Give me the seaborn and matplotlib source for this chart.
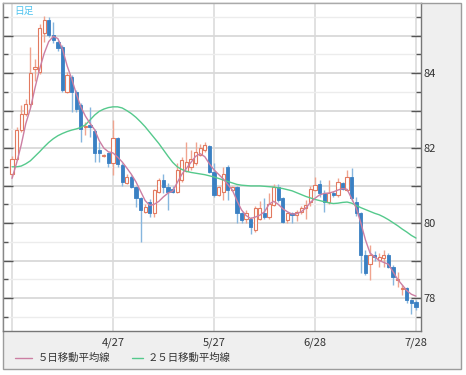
import matplotlib
matplotlib.use("Agg")
import matplotlib.pyplot as plt
import seaborn as sns
import pandas as pd
import numpy as np
from matplotlib.lines import Line2D
from matplotlib.patches import Rectangle

# daily candles, index 0 = first trading day shown
open_ = [81.32, 81.72, 82.48, 82.92, 83.17, 84.10, 84.04, 85.06, 85.41, 85.01,
         84.84, 84.70, 83.50, 83.90, 83.50, 83.15, 82.57, 82.62, 82.45, 81.95,
         81.78, 81.86, 81.59, 82.26, 81.55, 81.06, 81.24, 80.97, 80.66, 80.30,
         80.57, 80.26, 80.84, 81.15, 80.97, 80.92, 80.84, 81.15, 81.40, 81.50,
         81.59, 81.81, 81.95, 82.05, 81.37, 80.75, 80.84, 81.50, 80.88, 80.97,
         80.26, 80.12, 80.12, 79.81, 80.12, 80.26, 80.17, 80.48, 80.97, 80.66,
         80.08, 80.26, 80.21, 80.30, 80.39, 80.55, 80.88, 81.03, 80.79, 80.57,
         80.79, 80.75, 81.06, 80.88, 81.24, 80.57, 80.26, 79.15, 78.92, 79.15,
         79.01, 79.06, 79.15, 78.84, 78.48, 78.23, 78.26, 77.95, 77.90]
high = [81.80, 82.55, 83.15, 83.30, 84.70, 84.37, 85.30, 85.52, 85.50, 85.37,
        84.88, 84.75, 84.04, 83.95, 83.55, 83.20, 82.70, 83.10, 82.50, 82.17,
        81.85, 81.90, 82.75, 82.30, 81.60, 81.30, 81.28, 81.00, 80.70, 80.50,
        80.63, 80.92, 81.20, 81.32, 81.06, 81.00, 81.59, 81.75, 82.17, 81.95,
        82.17, 82.12, 82.17, 82.08, 81.59, 81.00, 81.50, 81.55, 81.00, 81.00,
        80.30, 80.35, 80.15, 80.45, 80.60, 80.66, 80.79, 81.05, 81.05, 80.70,
        80.30, 80.30, 80.35, 80.45, 80.62, 81.00, 81.24, 81.15, 80.88, 81.15,
        80.85, 81.19, 81.10, 81.41, 81.46, 80.70, 80.30, 79.28, 79.41, 79.25,
        79.19, 79.28, 79.19, 78.88, 78.70, 78.35, 78.30, 77.97, 77.95]
low = [81.24, 81.68, 82.44, 82.85, 83.10, 83.80, 83.98, 84.84, 84.97, 84.79,
       84.60, 83.50, 83.46, 82.97, 82.95, 82.17, 82.35, 82.30, 81.62, 81.64,
       81.75, 81.50, 81.28, 81.50, 81.00, 81.04, 80.93, 80.44, 79.50, 80.26,
       80.17, 80.17, 80.80, 80.79, 80.35, 80.80, 80.79, 81.10, 81.35, 81.42,
       81.55, 81.78, 81.90, 81.33, 80.70, 80.72, 80.62, 80.62, 80.85, 79.99,
       79.99, 79.99, 79.72, 79.76, 80.08, 80.12, 80.12, 80.45, 80.57, 80.00,
       80.00, 80.00, 80.05, 80.25, 80.10, 80.45, 80.85, 80.70, 80.30, 80.50,
       80.70, 80.70, 80.88, 80.85, 80.60, 80.20, 78.66, 78.62, 78.48, 79.00,
       78.84, 78.84, 78.80, 78.35, 78.30, 78.08, 77.86, 77.57, 77.68]
close = [81.72, 82.48, 82.92, 83.17, 83.99, 84.15, 85.19, 85.41, 85.01, 84.88,
         84.66, 83.55, 83.95, 83.50, 83.03, 82.52, 82.60, 82.55, 81.88, 81.88,
         81.81, 81.59, 82.26, 81.57, 81.10, 81.24, 80.97, 80.66, 80.35, 80.44,
         80.26, 80.88, 81.15, 80.97, 80.84, 80.84, 81.41, 81.68, 81.62, 81.72,
         81.90, 81.99, 82.08, 81.37, 80.75, 80.97, 81.32, 80.88, 80.97, 80.26,
         80.08, 80.26, 79.90, 80.39, 80.39, 80.17, 80.52, 80.97, 80.61, 80.04,
         80.26, 80.21, 80.30, 80.39, 80.48, 80.90, 81.01, 80.79, 80.57, 80.79,
         80.75, 81.10, 80.92, 81.24, 80.66, 80.26, 79.15, 78.66, 79.15, 79.10,
         79.10, 79.15, 78.84, 78.57, 78.50, 78.26, 77.95, 77.88, 77.77]

# moving average lines as drawn on the chart
ma5 = [81.19, 81.60, 82.08, 82.65, 83.05, 83.60, 84.10, 84.52, 84.84, 84.98,
       84.92, 84.64, 84.20, 83.85, 83.45, 83.10, 82.85, 82.66, 82.49, 82.20,
       82.00, 81.90, 81.87, 81.76, 81.63, 81.47, 81.30, 81.10, 80.85, 80.60,
       80.47, 80.50, 80.58, 80.70, 80.80, 80.85, 81.08, 81.30, 81.46, 81.62,
       81.78, 81.85, 81.77, 81.58, 81.42, 81.30, 81.18, 81.03, 80.88, 80.60,
       80.35, 80.20, 80.12, 80.16, 80.21, 80.30, 80.50, 80.58, 80.50, 80.38,
       80.30, 80.24, 80.25, 80.30, 80.40, 80.55, 80.66, 80.75, 80.79, 80.80,
       80.83, 80.88, 80.92, 80.90, 80.65, 80.40, 80.00, 79.55, 79.20, 79.10,
       79.00, 78.95, 78.90, 78.70, 78.50, 78.35, 78.20, 78.10, 78.05]
ma25 = [81.50, 81.50, 81.52, 81.58, 81.66, 81.78, 81.90, 82.03, 82.15, 82.25,
        82.33, 82.39, 82.44, 82.48, 82.51, 82.55, 82.62, 82.75, 82.88, 82.98,
        83.04, 83.08, 83.10, 83.10, 83.07, 83.00, 82.92, 82.82, 82.70, 82.57,
        82.42, 82.27, 82.12, 81.95, 81.78, 81.62, 81.50, 81.43, 81.38, 81.35,
        81.33, 81.31, 81.29, 81.26, 81.23, 81.19, 81.15, 81.11, 81.07, 81.03,
        81.01, 81.00, 80.99, 80.99, 80.99, 80.98, 80.97, 80.96, 80.94, 80.92,
        80.89, 80.86, 80.81, 80.76, 80.71, 80.67, 80.63, 80.60, 80.57, 80.54,
        80.52, 80.53, 80.55, 80.56, 80.53, 80.47, 80.41, 80.36, 80.31, 80.26,
        80.22, 80.16, 80.09, 80.01, 79.93, 79.84, 79.76, 79.67, 79.60]

tick_pos = [0, 22, 44, 66, 88]
tick_labels = ["", "4/27", "5/27", "6/28", "7/28"]

df = pd.DataFrame({"day": range(len(close)), "open": open_, "high": high,
                   "low": low, "close": close, "ma5": ma5, "ma25": ma25})

sns.set_theme(style="white")
plt.rcParams["font.family"] = ["Noto Sans CJK JP", "DejaVu Sans"]

W, H = 466, 375
fig = plt.figure(figsize=(W / 100, H / 100), dpi=100)
fig.patch.set_facecolor("white")
fig.add_artist(Rectangle((3 / W, 6 / H), 458 / W, 366 / H, transform=fig.transFigure,
                         facecolor="#efefef", edgecolor="#9c9c9c", lw=1, zorder=0))

ax = fig.add_axes([3 / W, 44 / H, 418 / W, 328 / H])
ax.set_facecolor("white")

up = df[df["close"] >= df["open"]]
down = df[df["close"] < df["open"]]

ax.vlines(up["day"], up["low"], up["high"], color="#f0a48f", lw=1, zorder=3)
ax.vlines(down["day"], down["low"], down["high"], color="#86b6de", lw=1, zorder=3)
ax.bar(up["day"], (up["close"] - up["open"]).clip(lower=0.03), bottom=up["open"],
       width=0.7, facecolor="white", edgecolor="#e27a60", lw=0.8, zorder=4)
ax.bar(down["day"], down["open"] - down["close"], bottom=down["close"],
       width=0.7, facecolor="#3a80c3", edgecolor="#3a80c3", lw=0.6, zorder=4)

sns.lineplot(data=df, x="day", y="ma25", ax=ax, color="#55c98c", lw=1, zorder=5)
sns.lineplot(data=df, x="day", y="ma5", ax=ax, color="#cc7fa3", lw=1, zorder=6)

ax.set_xlim(-1.96, 89.1)
ax.set_ylim(77.12, 85.87)
ax.set_xlabel("")
ax.set_ylabel("")

major = list(range(78, 86))
ax.set_yticks(major, [str(v) if v % 2 == 0 else "" for v in major])
ax.set_yticks(np.arange(77.5, 86, 1.0), minor=True)
ax.set_xticks(tick_pos, tick_labels)

ax.grid(axis="y", which="major", color="#d9d9d9", lw=1.3, zorder=0)
ax.grid(axis="y", which="minor", color="#ececec", lw=1.0, zorder=0)
ax.grid(axis="x", which="major", color="#dcdcdc", lw=1.2, zorder=0)
ax.set_axisbelow(True)

ax.tick_params(axis="y", which="both", direction="in", left=True, right=True,
               labelleft=False, labelright=True, color="#555555",
               labelsize=8, labelcolor="#333333", pad=2)
ax.tick_params(axis="y", which="major", length=7, width=1)
ax.tick_params(axis="y", which="minor", length=3.5, width=1)
ax.tick_params(axis="x", length=0, pad=5, labelsize=8, labelcolor="#333333")

for side, col in [("top", "#aaaaaa"), ("right", "#777777"),
                  ("bottom", "#777777"), ("left", "#888888")]:
    ax.spines[side].set_color(col)
    ax.spines[side].set_linewidth(1)

fig.text(14 / W, 1 - 11 / H, "日足", color="#4fc3ef", fontsize=7, va="center")

ly = 1 - 358 / H
fig.add_artist(Line2D([15 / W, 32 / W], [ly, ly], transform=fig.transFigure,
                      color="#cc7fa3", lw=1))
fig.text(38 / W, ly, "５日移動平均線", fontsize=7.5, color="#333333", va="center")
fig.add_artist(Line2D([132 / W, 143 / W], [ly, ly], transform=fig.transFigure,
                      color="#55c98c", lw=1))
fig.text(148 / W, ly, "２５日移動平均線", fontsize=7.5, color="#333333", va="center")

fig.savefig("out.png", dpi=100)
